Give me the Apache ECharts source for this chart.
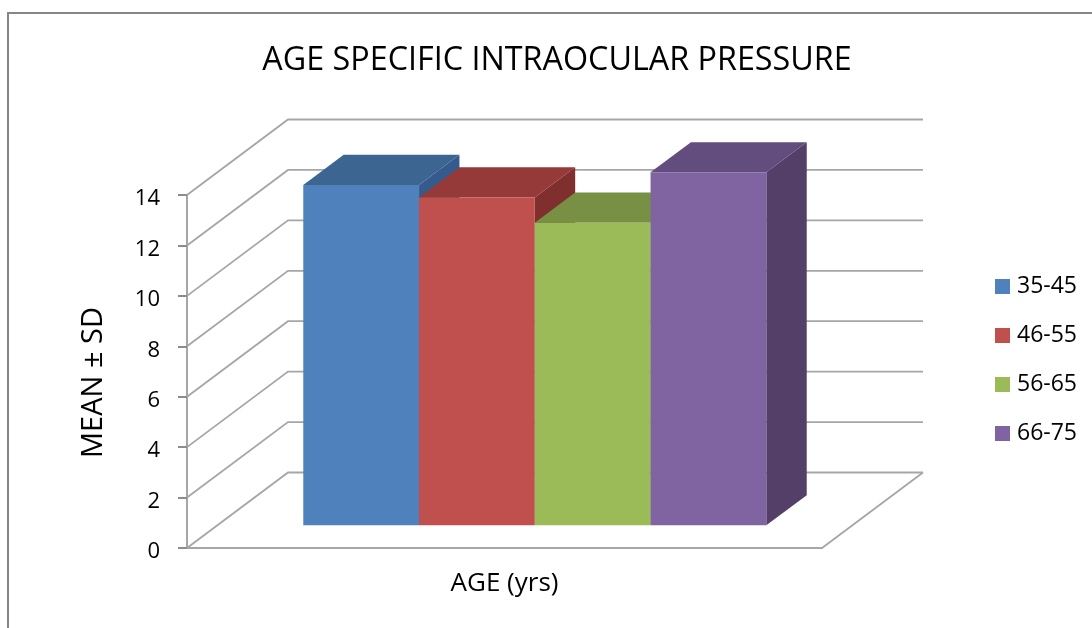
<!DOCTYPE html>
<html>
<head>
<meta charset="utf-8">
<title>Age specific intraocular pressure</title>
<style>
    html, body { margin: 0; padding: 0; background: #fff; }
    #main { width: 1092px; height: 628px; }
</style>
<script src="https://cdn.jsdelivr.net/npm/echarts@6/dist/echarts.min.js"></script>
</head>
<body>
<div id="main"></div>
<script>
    // values
    var categories = ['AGE (yrs)'];
    var ageGroups = ['35-45', '46-55', '56-65', '66-75'];
    var meanValues = [13.5, 13, 12, 14];
    var yTicks = [0, 2, 4, 6, 8, 10, 12, 14];

    // face colours: front, top, side
    var faceColors = [
        ['#4f81bd', '#3d6592', '#345b8c'],
        ['#c0504d', '#953a38', '#7f302e'],
        ['#9bbb59', '#789044', '#68803a'],
        ['#8064a2', '#634c7e', '#533f68']
    ];

    var fontName = '"Open Sans", sans-serif';
    var wallDx = 101, wallDy = -75.5;   // floor depth in pixels
    var barWidthRate = 0.1823;          // of the category band
    var depthFrom = 0.3, depthTo = 0.7; // bar position on the floor depth

    var chart = echarts.init(document.getElementById('main'));

    function renderWalls(params, api) {
        var cs = params.coordSys;
        var y = api.coord([0, api.value(1)])[1];
        var left = cs.x, right = cs.x + cs.width;
        var lineStyle = { stroke: '#a6a6a6', lineWidth: 1.8, fill: null };
        var children = [{
            type: 'polyline',
            shape: { points: [[left, y], [left + wallDx, y + wallDy], [right + wallDx, y + wallDy]] },
            style: lineStyle
        }];
        // right edge of the floor
        if (api.value(1) === 0) {
            children.push({
                type: 'line',
                shape: { x1: right, y1: y, x2: right + wallDx, y2: y + wallDy },
                style: lineStyle
            });
        }
        return { type: 'group', children: children };
    }

    function makeBarRender(index) {
        return function (params, api) {
            var base = api.coord([api.value(0), 0]);
            var top = api.coord([api.value(0), api.value(1)]);
            var w = api.size([1, 0])[0] * barWidthRate;
            var x0 = base[0] + wallDx * depthFrom + (index - 2) * w;
            var x1 = x0 + w;
            var yb = base[1] + wallDy * depthFrom;
            var yt = top[1] + wallDy * depthFrom;
            var dx = wallDx * (depthTo - depthFrom);
            var dy = wallDy * (depthTo - depthFrom);
            var c = faceColors[index];
            return {
                type: 'group',
                children: [
                    { type: 'polygon', shape: { points: [[x1, yb], [x1 + dx, yb + dy], [x1 + dx, yt + dy], [x1, yt]] }, style: { fill: c[2] } },
                    { type: 'polygon', shape: { points: [[x0, yt], [x1, yt], [x1 + dx, yt + dy], [x0 + dx, yt + dy]] }, style: { fill: c[1] } },
                    { type: 'rect', shape: { x: x0, y: yt, width: w, height: yb - yt }, style: { fill: c[0] } }
                ]
            };
        };
    }

    var series = [{
        type: 'custom',
        name: 'walls',
        silent: true,
        renderItem: renderWalls,
        encode: { x: 0, y: 1 },
        data: yTicks.map(function (t) { return [0, t]; })
    }];
    ageGroups.forEach(function (name, i) {
        series.push({
            type: 'custom',
            name: name,
            renderItem: makeBarRender(i),
            encode: { x: 0, y: 1 },
            itemStyle: { color: faceColors[i][0] },
            data: [[0, meanValues[i]]]
        });
    });

    var option = {
        animation: false,
        backgroundColor: '#fff',
        title: {
            text: 'AGE SPECIFIC INTRAOCULAR PRESSURE',
            left: 552,
            top: 56,
            textAlign: 'center',
            textVerticalAlign: 'middle',
            textStyle: { color: '#000', fontFamily: fontName, fontWeight: 'normal', fontSize: 32.3 }
        },
        legend: {
            orient: 'vertical',
            left: 995,
            top: 275,
            padding: 0,
            icon: 'rect',
            itemWidth: 15,
            itemHeight: 15,
            itemGap: 26,
            data: ageGroups,
            selectedMode: false,
            textStyle: { color: '#000', fontFamily: fontName, fontSize: 23, padding: [0, 0, 0, 2] }
        },
        grid: { left: 187, top: 195, width: 635, height: 353 },
        xAxis: {
            type: 'category',
            data: categories,
            axisLine: { lineStyle: { color: '#a6a6a6', width: 2 } },
            axisTick: { show: false },
            axisLabel: { color: '#000', fontFamily: fontName, fontSize: 26, margin: 23 }
        },
        yAxis: {
            type: 'value',
            min: 0,
            max: 14,
            interval: 2,
            name: 'MEAN ± SD',
            nameLocation: 'middle',
            nameGap: 79,
            nameTextStyle: { color: '#000', fontFamily: fontName, fontSize: 29, padding: [0, 22, 0, 0] },
            axisLine: { show: true, lineStyle: { color: '#a6a6a6', width: 2 } },
            axisTick: { show: true, length: 9, lineStyle: { color: '#8c8c8c', width: 2 } },
            axisLabel: { color: '#000', fontFamily: fontName, fontSize: 22, margin: 27, verticalAlign: 'top', lineHeight: 8 },
            splitLine: { show: false }
        },
        graphic: [{
            type: 'polyline',
            silent: true,
            shape: { points: [[8, 628], [8, 13], [1092, 13]] },
            style: { stroke: '#868686', lineWidth: 2, fill: null }
        }],
        series: series
    };

    chart.setOption(option);
</script>
</body>
</html>
